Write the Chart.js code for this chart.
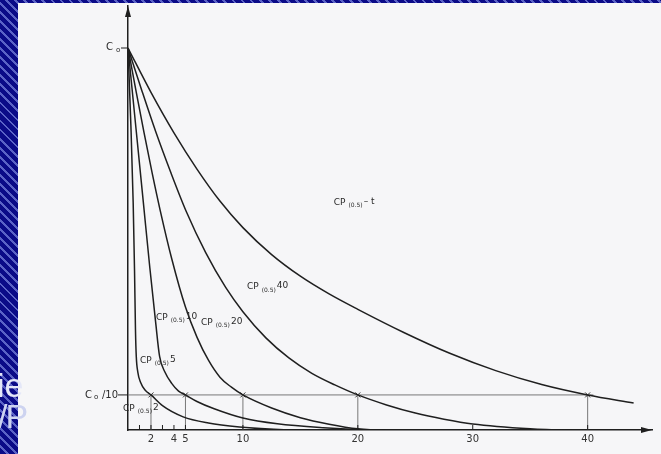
<!DOCTYPE html>
<html>
<head>
<meta charset="utf-8">
<script src="https://cdn.jsdelivr.net/npm/chart.js@4.4.1/dist/chart.umd.min.js"></script>
<style>
  html, body { margin: 0; padding: 0; }
  body {
    width: 661px; height: 454px; overflow: hidden; position: relative;
    background: repeating-linear-gradient(45deg, #0b0b88 0px, #0b0b88 4.4px, #5b63c6 4.4px, #5b63c6 6.4px);
  }
  #page { position: absolute; left: 18px; top: 3px; right: 0; bottom: 0; background: #f6f6f8; }
  #wrap { position: absolute; left: 0; top: 0; width: 661px; height: 454px; }
  .side { position: absolute; font-family: "Liberation Sans", Arial, sans-serif; font-size: 34px; line-height: 34px; }
</style>
</head>
<body>
<div id="page"></div>
<div id="wrap"><canvas id="decay-chart" width="661" height="454"></canvas></div>
<div class="side" style="left:-3px; top:368px; color:#e4e7f8;">ie</div>
<div class="side" style="left:-2px; top:399px; color:#cdd3f0; letter-spacing:-2px;">/P</div>

<script>
/* Curves: time t and relative concentration C / C0 */
const t2  = [0, 0.25, 0.45, 0.57, 0.65, 0.72, 0.85, 1.1, 1.5, 2, 3, 4.8, 7, 9.7, 14, 20];
const c2  = [1, 0.8, 0.6, 0.42, 0.27, 0.2, 0.16, 0.132, 0.112, 0.1, 0.072, 0.043, 0.027, 0.017, 0.009, 0.004];

const t5  = [0, 0.7, 1.35, 1.9, 2.4, 2.75, 3.2, 3.8, 4.4, 5, 6, 7.5, 10, 13, 17, 22, 30];
const c5  = [1, 0.79, 0.595, 0.43, 0.29, 0.2, 0.16, 0.13, 0.11, 0.1, 0.083, 0.064, 0.04, 0.025, 0.015, 0.008, 0.004];

const t10 = [0, 0.7, 1.4, 2.1, 2.8, 3.8, 5, 6, 7, 8, 9, 10, 12.5, 15, 17.5, 20, 25, 30];
const c10 = [1, 0.888, 0.78, 0.676, 0.579, 0.454, 0.328, 0.25, 0.19, 0.146, 0.12, 0.1, 0.066, 0.041, 0.024, 0.012, 0.0045, 0.002];

const t20 = [0, 1.2, 2.4, 3.7, 5.07, 6.75, 8.5, 10, 12, 14, 16, 18, 20, 22.5, 25, 27.5, 30, 35, 40];
const c20 = [1, 0.89, 0.784, 0.679, 0.576, 0.47, 0.379, 0.316, 0.248, 0.196, 0.156, 0.126, 0.1, 0.074, 0.053, 0.037, 0.0245, 0.012, 0.006];

const t40 = [0, 2, 4, 6, 8, 10, 12.5, 15, 17.5, 20, 24, 28, 32, 36, 40, 44];
const c40 = [1, 0.885, 0.78, 0.686, 0.603, 0.534, 0.464, 0.408, 0.362, 0.322, 0.262, 0.208, 0.163, 0.127, 0.1, 0.079];

/* Times where each curve reaches C0/10 */
const crossTimes = [2, 5, 10, 20, 40];
const crossLevel = 0.1;

/* Time axis ticks */
const xTicks      = [1, 2, 3, 4, 5, 10, 20, 30, 40];
const xTickLabels = ['', '2', '', '4', '5', '10', '20', '30', '40'];

const ink = '#1f1f1f';
const FONT = '"DejaVu Sans", "Liberation Sans", sans-serif';

function toPoints(ts, cs) {
    return ts.map((t, i) => ({x: t, y: cs[i]}));
}

function curve(ts, cs) {
    return {
        data: toPoints(ts, cs),
        borderColor: ink,
        borderWidth: 1.5,
        pointRadius: 0,
        cubicInterpolationMode: 'monotone',
        fill: false
    };
}

function thinLine(points) {
    return {
        data: points,
        borderColor: '#6a6a6a',
        borderWidth: 0.9,
        pointRadius: 0,
        fill: false
    };
}

/* Build all datasets */
const datasets = [
    curve(t2, c2), curve(t5, c5), curve(t10, c10), curve(t20, c20), curve(t40, c40),
    thinLine([{x: 0, y: crossLevel}, {x: 40.5, y: crossLevel}])
];
crossTimes.forEach(t => {
    datasets.push(thinLine([{x: t, y: 0}, {x: t, y: crossLevel}]));
});
datasets.push({
    data: crossTimes.map(t => ({x: t, y: crossLevel})),
    showLine: false,
    pointStyle: 'crossRot',
    pointRadius: 3.5,
    borderColor: '#333',
    borderWidth: 1
});

/* Arrows, C0 labels, tick marks and curve names */
const decorations = {
    id: 'decorations',
    afterDatasetsDraw(chart) {
        const {ctx, chartArea, scales} = chart;
        const x = scales.x, y = scales.y;
        const left = chartArea.left, bottom = chartArea.bottom;
        ctx.save();
        ctx.fillStyle = ink;
        ctx.strokeStyle = ink;

        // arrow heads
        ctx.beginPath();
        ctx.moveTo(left, chartArea.top);
        ctx.lineTo(left - 3, chartArea.top + 11);
        ctx.lineTo(left + 3, chartArea.top + 11);
        ctx.closePath();
        ctx.fill();
        ctx.beginPath();
        ctx.moveTo(chartArea.right, bottom);
        ctx.lineTo(chartArea.right - 11, bottom - 3);
        ctx.lineTo(chartArea.right - 11, bottom + 3);
        ctx.closePath();
        ctx.fill();

        // small ticks above the time axis
        ctx.lineWidth = 1;
        xTicks.forEach(v => {
            const px = x.getPixelForValue(v);
            ctx.beginPath();
            ctx.moveTo(px, bottom);
            ctx.lineTo(px, bottom - 5);
            ctx.stroke();
        });

        // C0 and C0/10 marks
        const y1 = y.getPixelForValue(1);
        const y01 = y.getPixelForValue(crossLevel);
        ctx.beginPath();
        ctx.moveTo(left - 7, y1); ctx.lineTo(left, y1);
        ctx.moveTo(left - 10, y01); ctx.lineTo(left, y01);
        ctx.stroke();
        ctx.textBaseline = 'middle';
        ctx.textAlign = 'left';
        ctx.fillStyle = '#2a2a2a';
        ctx.font = '10px ' + FONT;
        ctx.fillText('C', left - 22, y1 - 1);
        ctx.fillText('C', left - 43, y01);
        ctx.fillText('/10', left - 26, y01);
        ctx.font = '7px ' + FONT;
        ctx.fillText('o', left - 12, y1 + 2);
        ctx.fillText('o', left - 34, y01 + 2);

        // curve names
        const names = [
            {t: -0.43, c: 0.064, n: '2'},
            {t: 1.04, c: 0.19, n: '5'},
            {t: 2.43, c: 0.3, n: '10'},
            {t: 6.35, c: 0.287, n: '20'},
            {t: 10.35, c: 0.38, n: '40'},
            {t: 17.9, c: 0.6, n: '\u2013 t'}
        ];
        names.forEach(lab => {
            const px = x.getPixelForValue(lab.t);
            const py = y.getPixelForValue(lab.c);
            ctx.font = '9px ' + FONT;
            ctx.fillText('CP', px, py);
            let cx = px + ctx.measureText('CP').width + 3;
            ctx.font = '6px ' + FONT;
            ctx.fillText('(0.5)', cx, py + 3);
            cx += ctx.measureText('(0.5)').width + 1;
            ctx.font = '9px ' + FONT;
            ctx.fillText(lab.n, cx, py - 1);
        });
        ctx.restore();
    }
};

const ctx = document.getElementById('decay-chart');
const decayChart = new Chart(ctx, {
    type: 'line',
    data: {datasets: datasets},
    options: {
        responsive: false,
        animation: false,
        devicePixelRatio: 1,
        layout: {padding: {left: 0, top: 6, right: 9, bottom: 0}},
        plugins: {legend: {display: false}, tooltip: {enabled: false}},
        scales: {
            x: {
                type: 'linear',
                min: 0,
                max: 45.6,
                afterFit: s => { s.height = 24; },
                afterBuildTicks: s => { s.ticks = xTicks.map(v => ({value: v})); },
                grid: {display: false, drawTicks: false},
                border: {display: true, color: ink, width: 1.5},
                ticks: {
                    autoSkip: false,
                    maxRotation: 0,
                    padding: 3,
                    color: '#333',
                    font: {family: FONT, size: 10},
                    callback: (v, i) => xTickLabels[i]
                }
            },
            y: {
                type: 'linear',
                min: 0.009,
                max: 1.109,
                afterFit: s => { s.width = 128; },
                grid: {display: false, drawTicks: false},
                border: {display: true, color: ink, width: 1.5},
                ticks: {display: false}
            }
        }
    },
    plugins: [decorations]
});
</script>
</body>
</html>
